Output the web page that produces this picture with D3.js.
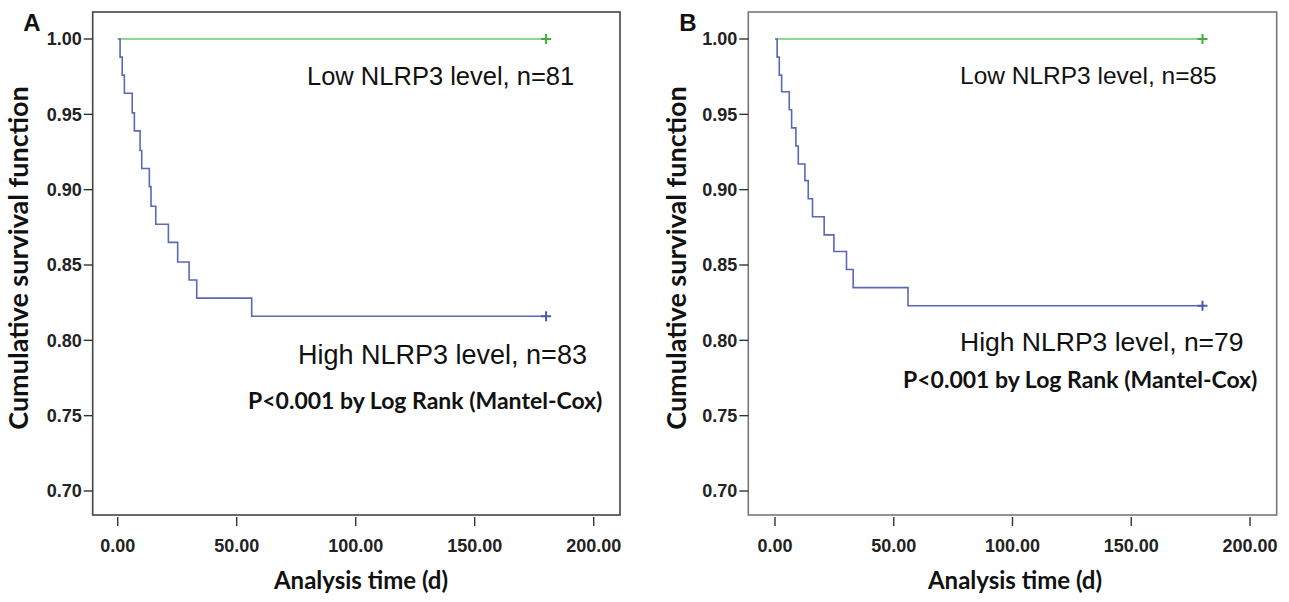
<!DOCTYPE html>
<html>
<head>
<meta charset="utf-8">
<title>NLRP3 survival</title>
<script src="https://cdn.jsdelivr.net/npm/d3@7"></script>
<style>
  body { margin: 0; background: #fff; }
</style>
</head>
<body>
<script>
// x ticks, y ticks
var xTicks = [0, 50, 100, 150, 200];
var yTicks = [0.70, 0.75, 0.80, 0.85, 0.90, 0.95, 1.00];

// panel A, high NLRP3 group: drop times (d) and survival after each drop
var timesA = [0, 1.0, 1.9, 2.8, 6.1, 7.0, 9.4, 10.1, 13.3, 14.0, 16.0, 21.3, 25.2, 30.0, 33.2, 56.3, 180];
var survA  = [1.00, 0.988, 0.976, 0.964, 0.951, 0.939, 0.926, 0.914, 0.902, 0.889, 0.877, 0.865, 0.852, 0.840, 0.828, 0.816, 0.816];
// panel B, high NLRP3 group
var timesB = [0, 0.9, 1.8, 2.8, 6.0, 7.0, 8.8, 9.8, 12.6, 14.0, 15.8, 20.7, 24.8, 30.1, 32.9, 56.0, 180];
var survB  = [1.00, 0.988, 0.976, 0.965, 0.953, 0.941, 0.929, 0.917, 0.906, 0.894, 0.882, 0.870, 0.859, 0.847, 0.835, 0.823, 0.823];
// low NLRP3 group, no events
var timesLow = [0.7, 180];
var survLow  = [1.00, 1.00];

var svg = d3.select("body").append("svg")
    .attr("width", 1289)
    .attr("height", 602);

function panel(o) {
    var x = d3.scaleLinear().domain([0, 200]).range([o.x0, o.x200]);
    var y = d3.scaleLinear().domain([0.70, 1.00]).range([491, 39]);
    var g = svg.append("g");

    // frame
    g.append("rect")
        .attr("x", o.left).attr("y", 12)
        .attr("width", o.right - o.left).attr("height", 503)
        .attr("fill", "none").attr("stroke", o.frame).attr("stroke-width", 1.6);

    // y ticks
    g.selectAll(".yt").data(yTicks).enter().append("line")
        .attr("x1", o.left - 9).attr("x2", o.left)
        .attr("y1", function (d) { return y(d); }).attr("y2", function (d) { return y(d); })
        .attr("stroke", "#333").attr("stroke-width", 1.4);
    g.selectAll(".yl").data(yTicks).enter().append("text")
        .attr("x", o.left - 11).attr("y", function (d) { return y(d); })
        .attr("dy", "0.36em").attr("text-anchor", "end")
        .style("font", "bold 18px 'Liberation Sans', Arial, sans-serif").style("fill", "#222")
        .text(function (d) { return d.toFixed(2); });

    // x ticks (sit a bit under the frame)
    g.selectAll(".xt").data(xTicks).enter().append("line")
        .attr("x1", function (d) { return x(d); }).attr("x2", function (d) { return x(d); })
        .attr("y1", 517).attr("y2", 526)
        .attr("stroke", "#333").attr("stroke-width", 1.4);
    g.selectAll(".xl").data(xTicks).enter().append("text")
        .attr("x", function (d) { return x(d); }).attr("y", 552)
        .attr("text-anchor", "middle")
        .style("font", "bold 18px 'Liberation Sans', Arial, sans-serif").style("fill", "#222")
        .text(function (d) { return d.toFixed(2); });

    // curves
    var line = d3.line().curve(d3.curveStepAfter)
        .x(function (d) { return x(d[0]); }).y(function (d) { return y(d[1]); });
    g.append("path").datum(d3.zip(timesLow, survLow))
        .attr("d", line).attr("fill", "none").attr("stroke", "#6cc96c").attr("stroke-width", 1.6);
    g.append("path").datum(d3.zip(o.times, o.surv))
        .attr("d", line).attr("fill", "none").attr("stroke", "#5a68b8").attr("stroke-width", 1.6);

    // censor marks at the end
    [[timesLow, survLow, "#3fae3f"], [o.times, o.surv, "#4a58aa"]].forEach(function (c) {
        var px = x(c[0][c[0].length - 1]), py = y(c[1][c[1].length - 1]);
        g.append("path")
            .attr("d", "M" + (px - 5) + "," + py + "h10M" + px + "," + (py - 5) + "v10")
            .attr("stroke", c[2]).attr("stroke-width", 2);
    });

    // labels
    g.append("text").attr("x", o.lowX).attr("y", o.lowY).attr("dy", "0.36em")
        .style("font", o.lowSize + "px 'Liberation Sans', Arial, sans-serif").style("fill", "#111")
        .text(o.lowText);
    g.append("text").attr("x", o.highX).attr("y", o.highY).attr("dy", "0.36em")
        .style("font", o.highSize + "px 'Liberation Sans', Arial, sans-serif").style("fill", "#111")
        .text(o.highText);
    g.append("text").attr("x", o.pX).attr("y", o.pY).attr("dy", "0.36em")
        .style("font", "bold 23px Lato, 'Open Sans', sans-serif").style("fill", "#111")
        .text("P<0.001 by Log Rank (Mantel-Cox)");

    // axis titles
    g.append("text").attr("x", o.xTitleX).attr("y", 580).attr("dy", "0.36em")
        .attr("text-anchor", "middle")
        .style("font", "bold 24px Lato, 'Open Sans', sans-serif").style("fill", "#111")
        .text("Analysis time (d)");
    g.append("text")
        .attr("transform", "translate(" + o.yTitleX + ",258) rotate(-90)")
        .attr("dy", "0.36em").attr("text-anchor", "middle")
        .style("font", "bold 27px Lato, 'Open Sans', sans-serif").style("fill", "#111")
        .text("Cumulative survival function");

    // panel letter
    g.append("text").attr("x", o.letterX).attr("y", 22).attr("dy", "0.36em")
        .attr("text-anchor", "middle")
        .style("font", "bold 24px 'Liberation Sans', Arial, sans-serif").style("fill", "#111")
        .text(o.letter);
}

panel({
    letter: "A", letterX: 32,
    left: 92.7, right: 620, x0: 117.7, x200: 593.7, frame: "#444",
    times: timesA, surv: survA,
    lowText: "Low NLRP3 level, n=81", lowX: 307, lowY: 76, lowSize: 25.5,
    highText: "High NLRP3 level, n=83", highX: 298, highY: 354, highSize: 27,
    pX: 248, pY: 401, xTitleX: 361, yTitleX: 18
});
panel({
    letter: "B", letterX: 688,
    left: 748.3, right: 1276.7, x0: 775, x200: 1250, frame: "#777",
    times: timesB, surv: survB,
    lowText: "Low NLRP3 level, n=85", lowX: 960, lowY: 75, lowSize: 24.5,
    highText: "High NLRP3 level, n=79", highX: 960, highY: 341, highSize: 26.5,
    pX: 903, pY: 380, xTitleX: 1015, yTitleX: 676
});
</script>
</body>
</html>
